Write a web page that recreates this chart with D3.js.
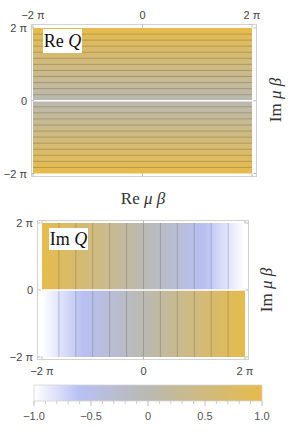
<!DOCTYPE html>
<html>
<head>
<meta charset="utf-8">
<script src="https://cdn.jsdelivr.net/npm/d3@7"></script>
<style>
  body { margin: 0; background: #fff; }
  svg text { font-family: "Liberation Sans", Arial, sans-serif; }
</style>
</head>
<body>
<div id="chart"></div>
<script>
// values in units of pi
var axisTicks = [-2, 0, 2];
var axisTickLabels = ["\u22122 \u03c0", "0", "2 \u03c0"];

// Re Q read along Im mu beta (top panel)
var imMuSamples = [-2, 0, 2];
var reQSamples = [1, 0, 1];
var reQContours = [-1.833, -1.667, -1.5, -1.333, -1.167, -1, -0.833, -0.667, -0.5, -0.333, -0.167,
                   0.167, 0.333, 0.5, 0.667, 0.833, 1, 1.167, 1.333, 1.5, 1.667, 1.833];

// Im Q read along Re mu beta (bottom panel), upper and lower half planes
var reMuSamples = [-2, 2];
var imQUpper = [1, -1];
var imQLower = [-1, 1];
var imQContours = [-1.667, -1.333, -1, -0.667, -0.333, 0, 0.333, 0.667, 1, 1.333, 1.667];

// colour bar
var qStops = [-1, -0.6, 0, 1];
var qColors = ["#ffffff", "#b8c0f3", "#bab9b2", "#e6bb4b"];
var barTicks = [-1, -0.5, 0, 0.5, 1];
var barTickLabels = ["\u22121.0", "\u22120.5", "0", "0.5", "1.0"];
var barMinor = [-0.9, -0.8, -0.7, -0.6, -0.4, -0.3, -0.2, -0.1, 0.1, 0.2, 0.3, 0.4, 0.6, 0.7, 0.8, 0.9];

var W = 294, H = 432;
var svg = d3.select("#chart").append("svg").attr("width", W).attr("height", H);
var defs = svg.append("defs");

var color = d3.scaleLinear().domain(qStops).range(qColors).interpolate(d3.interpolateRgb).clamp(true);

function gradient(id, vertical, sampleScale) {
    var g = defs.append("linearGradient").attr("id", id)
        .attr("x1", 0).attr("y1", 0)
        .attr("x2", vertical ? 0 : 1).attr("y2", vertical ? 1 : 0);
    d3.range(0, 41).forEach(function(i) {
        var t = i / 40;
        g.append("stop").attr("offset", t).attr("stop-color", color(sampleScale(t)));
    });
}

function frame(g, x, y, box) {
    g.append("rect")
        .attr("x", box[0]).attr("y", box[1])
        .attr("width", box[2] - box[0]).attr("height", box[3] - box[1])
        .attr("fill", "none").attr("stroke", "#d2d2d2").attr("stroke-width", 1);
    axisTicks.forEach(function(v) {
        g.append("line").attr("x1", x(v)).attr("x2", x(v)).attr("y1", box[1]).attr("y2", box[1] + 3)
            .attr("stroke", "#bbb");
        g.append("line").attr("x1", x(v)).attr("x2", x(v)).attr("y1", box[3]).attr("y2", box[3] - 3)
            .attr("stroke", "#bbb");
        g.append("line").attr("y1", y(v)).attr("y2", y(v)).attr("x1", box[0]).attr("x2", box[0] + 3)
            .attr("stroke", "#bbb");
        g.append("line").attr("y1", y(v)).attr("y2", y(v)).attr("x1", box[2]).attr("x2", box[2] - 3)
            .attr("stroke", "#bbb");
    });
}

function labelBox(g, x0, y0, w, h, re) {
    g.append("rect").attr("x", x0).attr("y", y0).attr("width", w).attr("height", h).attr("fill", "#fff");
    var t = g.append("text").attr("x", x0 + w / 2).attr("y", y0 + h / 2 + 6)
        .attr("text-anchor", "middle")
        .style("font-family", "'Liberation Serif', 'Times New Roman', serif")
        .style("font-size", "18px").attr("fill", "#111");
    t.append("tspan").text(re + " ");
    t.append("tspan").style("font-style", "italic").text("Q");
}

function muLabel(g, x0, y0, part, rotate) {
    var t = g.append("text")
        .attr("transform", "translate(" + x0 + "," + y0 + ")" + (rotate ? " rotate(-90)" : ""))
        .attr("text-anchor", "middle").attr("dy", "0.35em")
        .style("font-family", "'Liberation Serif', 'Times New Roman', serif")
        .style("font-size", "17px").attr("fill", "#333");
    t.append("tspan").text(part + " ");
    t.append("tspan").style("font-style", "italic").text("\u03bc \u03b2");
}

// ---------- top panel: Re Q ----------
var gTop = svg.append("g");
var x1 = d3.scaleLinear().domain([-2, 2]).range([33, 252]);
var y1 = d3.scaleLinear().domain([2, -2]).range([28, 173.5]);
var reQ = d3.scaleLinear().domain(imMuSamples).range(reQSamples);
gradient("gradRe", true, function(t) { return reQ(y1.invert(y1(2) + t * (y1(-2) - y1(2)))); });

gTop.append("rect")
    .attr("x", x1(-2)).attr("y", y1(2))
    .attr("width", x1(2) - x1(-2)).attr("height", y1(-2) - y1(2))
    .attr("fill", "url(#gradRe)");

gTop.append("g").selectAll("line").data(reQContours).enter().append("line")
    .attr("x1", x1(-2)).attr("x2", x1(2))
    .attr("y1", function(d) { return y1(d); }).attr("y2", function(d) { return y1(d); })
    .attr("stroke", "rgba(90,75,30,0.38)").attr("stroke-width", 0.8);

gTop.append("line").attr("x1", x1(-2)).attr("x2", x1(2)).attr("y1", y1(0)).attr("y2", y1(0))
    .attr("stroke", "#fff").attr("stroke-width", 1.6);

frame(gTop, x1, y1, [31.5, 24.5, 256.5, 176.5]);

gTop.selectAll(".xt").data(axisTicks).enter().append("text")
    .attr("x", function(d) { return x1(d); }).attr("y", 19)
    .attr("text-anchor", "middle").style("font-size", "11px").attr("fill", "#444")
    .text(function(d, i) { return axisTickLabels[i]; });
gTop.selectAll(".yt").data(axisTicks).enter().append("text")
    .attr("x", 27).attr("y", function(d) { return y1(d) + 4; })
    .attr("text-anchor", "end").style("font-size", "11px").attr("fill", "#444")
    .text(function(d, i) { return axisTickLabels[i]; });

labelBox(gTop, 43, 29, 39, 24, "Re");
muLabel(gTop, 143, 198, "Re", false);
muLabel(gTop, 275, 100, "Im", true);

// ---------- bottom panel: Im Q ----------
var gBot = svg.append("g");
var x2 = d3.scaleLinear().domain([-2, 2]).range([42, 245]);
var y2 = d3.scaleLinear().domain([2, -2]).range([223, 357]);
var imUp = d3.scaleLinear().domain(reMuSamples).range(imQUpper);
var imLo = d3.scaleLinear().domain(reMuSamples).range(imQLower);
gradient("gradUp", false, function(t) { return imUp(x2.invert(x2(-2) + t * (x2(2) - x2(-2)))); });
gradient("gradLo", false, function(t) { return imLo(x2.invert(x2(-2) + t * (x2(2) - x2(-2)))); });

gBot.append("rect")
    .attr("x", x2(-2)).attr("y", y2(2))
    .attr("width", x2(2) - x2(-2)).attr("height", y2(0) - y2(2))
    .attr("fill", "url(#gradUp)");
gBot.append("rect")
    .attr("x", x2(-2)).attr("y", y2(0))
    .attr("width", x2(2) - x2(-2)).attr("height", y2(-2) - y2(0))
    .attr("fill", "url(#gradLo)");

gBot.append("g").selectAll("line").data(imQContours).enter().append("line")
    .attr("x1", function(d) { return x2(d); }).attr("x2", function(d) { return x2(d); })
    .attr("y1", y2(2)).attr("y2", y2(-2))
    .attr("stroke", "rgba(60,60,60,0.3)").attr("stroke-width", 0.8);

gBot.append("line").attr("x1", x2(-2)).attr("x2", x2(2)).attr("y1", y2(0)).attr("y2", y2(0))
    .attr("stroke", "#fff").attr("stroke-width", 1.6);

frame(gBot, x2, y2, [37.5, 220.5, 248.5, 359.5]);

gBot.selectAll(".xt").data(axisTicks).enter().append("text")
    .attr("x", function(d) { return x2(d); }).attr("y", 375)
    .attr("text-anchor", "middle").style("font-size", "11px").attr("fill", "#444")
    .text(function(d, i) { return axisTickLabels[i]; });
gBot.selectAll(".yt").data(axisTicks).enter().append("text")
    .attr("x", 33).attr("y", function(d) { return y2(d) + 4; })
    .attr("text-anchor", "end").style("font-size", "11px").attr("fill", "#444")
    .text(function(d, i) { return axisTickLabels[i]; });

labelBox(gBot, 49, 228, 39, 22, "Im");
muLabel(gBot, 266, 290, "Im", true);

// ---------- colour bar ----------
var gBar = svg.append("g");
var xb = d3.scaleLinear().domain([-1, 1]).range([34, 262]);
gradient("gradBar", false, function(t) { return xb.invert(xb(-1) + t * (xb(1) - xb(-1))); });
gBar.append("rect")
    .attr("x", xb(-1)).attr("y", 385).attr("width", xb(1) - xb(-1)).attr("height", 16)
    .attr("fill", "url(#gradBar)").attr("stroke", "#d4d4d4").attr("stroke-width", 0.8);
gBar.selectAll(".mj").data(barTicks).enter().append("line")
    .attr("x1", function(d) { return xb(d); }).attr("x2", function(d) { return xb(d); })
    .attr("y1", 401).attr("y2", 406).attr("stroke", "#bbb");
gBar.selectAll(".mn").data(barMinor).enter().append("line")
    .attr("x1", function(d) { return xb(d); }).attr("x2", function(d) { return xb(d); })
    .attr("y1", 401).attr("y2", 404).attr("stroke", "#ccc");
gBar.selectAll(".lb").data(barTicks).enter().append("text")
    .attr("x", function(d) { return xb(d); }).attr("y", 420)
    .attr("text-anchor", "middle").style("font-size", "11px").attr("fill", "#555")
    .text(function(d, i) { return barTickLabels[i]; });
</script>
</body>
</html>
